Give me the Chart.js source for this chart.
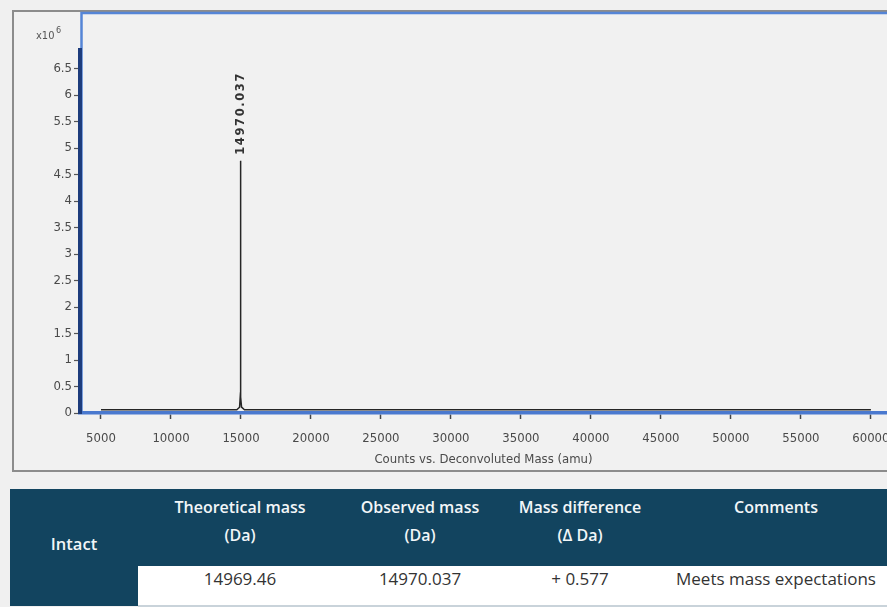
<!DOCTYPE html>
<html>
<head>
<meta charset="utf-8">
<script src="https://cdn.jsdelivr.net/npm/chart.js@4.4.1/dist/chart.umd.min.js"></script>
<style>
  html, body { margin: 0; padding: 0; background: #f0f0f0; width: 887px; height: 607px; overflow: hidden; }
  #panel { position: absolute; left: 12px; top: 10px; width: 900px; height: 458px; border: 2px solid #8c8c8c; background: #f1f1f1; }
  #spectrum { position: absolute; left: 0; top: 0; }
  #results { position: absolute; left: 10px; top: 489px; width: 880px; border-collapse: collapse; font-family: "Open Sans", "Lato", sans-serif; }
  #results th { background: #12445f; color: #f2f6f8; font-weight: 600; font-size: 16px; line-height: 28px; vertical-align: top; padding: 4px 0 0 0; height: 73px; text-align: center; }
  #results th.side { vertical-align: middle; padding: 0 0 8px 0; text-align: center; font-size: 16.5px; }
  #results td { background: #ffffff; color: #333; font-size: 17px; text-align: center; height: 38px; vertical-align: top; padding: 1px 0 0 0; border-bottom: 2px solid #c9d3da; }
</style>
</head>
<body>
<div id="panel"></div>
<canvas id="spectrum" width="887" height="475"></canvas>
<table id="results">
  <tr>
    <th class="side" rowspan="2" style="width:128px">Intact</th>
    <th style="width:204px">Theoretical mass<br>(Da)</th>
    <th style="width:156px">Observed mass<br>(Da)</th>
    <th style="width:164px">Mass difference<br>(Δ Da)</th>
    <th>Comments</th>
  </tr>
  <tr id="valueRow"></tr>
</table>
<script>
// Deconvoluted spectrum (mass in Da, intensity in counts)
const massDa = [5000, 14700, 14900, 14950, 14965, 14970.037, 14975, 14990, 15040, 15250, 60000];
const counts = [60000, 60000, 110000, 320000, 350000, 4760000, 350000, 300000, 110000, 60000, 60000];

// Labelled peak
const peakMass = 14970.037;
const peakCounts = 4760000;
const peakLabel = "14970.037";

// Axis ticks
const xTicks = [5000, 10000, 15000, 20000, 25000, 30000, 35000, 40000, 45000, 50000, 55000, 60000];
const yTicks = [0, 500000, 1000000, 1500000, 2000000, 2500000, 3000000, 3500000, 4000000, 4500000, 5000000, 5500000, 6000000, 6500000];

// Summary table values
const resultValues = ["14969.46", "14970.037", "+ 0.577", "Meets mass expectations"];

const row = document.getElementById('valueRow');
resultValues.forEach(v => {
  const td = document.createElement('td');
  td.textContent = v;
  row.appendChild(td);
});

const axisFamily = "'DejaVu Sans Condensed', 'Liberation Sans', sans-serif";
const tickFont = { family: axisFamily, size: 13 };

// Blue frame around the plot area
const framePlugin = {
  id: 'frame',
  beforeDraw(chart) {
    const { ctx, chartArea } = chart;
    ctx.save();
    ctx.strokeStyle = '#5585d6';
    ctx.lineWidth = 2.5;
    ctx.beginPath();
    ctx.moveTo(chartArea.left + 1.5, chartArea.bottom);
    ctx.lineTo(chartArea.left + 1.5, 13);
    ctx.lineTo(chart.width + 5, 13);
    ctx.stroke();
    // exponent marker for the intensity axis
    ctx.fillStyle = '#555';
    ctx.textBaseline = 'alphabetic';
    ctx.textAlign = 'left';
    ctx.font = "11px " + axisFamily;
    ctx.fillText('x10', 36, 39);
    ctx.font = "9px " + axisFamily;
    ctx.fillText('6', 56, 33);
    ctx.restore();
  }
};

// Vertical mass label above the peak apex
const peakLabelPlugin = {
  id: 'peakLabel',
  afterDatasetsDraw(chart) {
    const { ctx, scales } = chart;
    const x = scales.x.getPixelForValue(peakMass);
    const y = scales.y.getPixelForValue(peakCounts) - 6;
    ctx.save();
    ctx.translate(x, y);
    ctx.rotate(-Math.PI / 2);
    ctx.fillStyle = '#333';
    ctx.font = "bold 11.5px 'DejaVu Sans', sans-serif";
    ctx.letterSpacing = '1.6px';
    ctx.textAlign = 'left';
    ctx.textBaseline = 'middle';
    ctx.fillText(peakLabel, 0, 0);
    ctx.restore();
  }
};

new Chart(document.getElementById('spectrum'), {
  type: 'line',
  data: {
    datasets: [{
      data: massDa.map((m, i) => ({ x: m, y: counts[i] })),
      borderColor: '#262626',
      borderWidth: 1.5,
      pointRadius: 0,
      tension: 0,
      fill: false
    }]
  },
  options: {
    responsive: false,
    devicePixelRatio: 1,
    animation: false,
    layout: { padding: { top: 50, left: 0, right: 0, bottom: 0 } },
    plugins: { legend: { display: false }, tooltip: { enabled: false } },
    scales: {
      x: {
        type: 'linear',
        min: 3500,
        max: 61150,
        afterBuildTicks(scale) { scale.ticks = xTicks.map(v => ({ value: v })); },
        afterFit(scale) { scale.height = 62; scale.paddingLeft = 0; scale.paddingRight = 0; },
        ticks: {
          color: '#4a4a4a',
          font: tickFont,
          padding: 12,
          maxRotation: 0,
          autoSkip: false,
          callback: v => String(v)
        },
        grid: { drawOnChartArea: false, drawTicks: true, tickLength: 6, tickColor: '#444', tickWidth: 1.5 },
        border: { display: true, color: '#4a79cf', width: 3.5 },
        title: {
          display: true,
          text: 'Counts vs. Deconvoluted Mass (amu)',
          color: '#4a4a4a',
          font: { family: axisFamily, size: 13 },
          padding: { top: 0, bottom: 8 }
        }
      },
      y: {
        type: 'linear',
        min: 0,
        max: 6850000,
        afterBuildTicks(scale) { scale.ticks = yTicks.map(v => ({ value: v })); },
        afterFit(scale) { scale.width = 80; scale.paddingTop = 0; scale.paddingBottom = 0; },
        ticks: {
          color: '#4a4a4a',
          font: tickFont,
          padding: 2,
          autoSkip: false,
          callback: v => String(v / 1000000)
        },
        grid: { drawOnChartArea: false, drawTicks: true, tickLength: 6, tickColor: '#555', tickWidth: 1.2 },
        border: { display: true, color: '#1d3c7c', width: 4 }
      }
    }
  },
  plugins: [framePlugin, peakLabelPlugin]
});
</script>
</body>
</html>
